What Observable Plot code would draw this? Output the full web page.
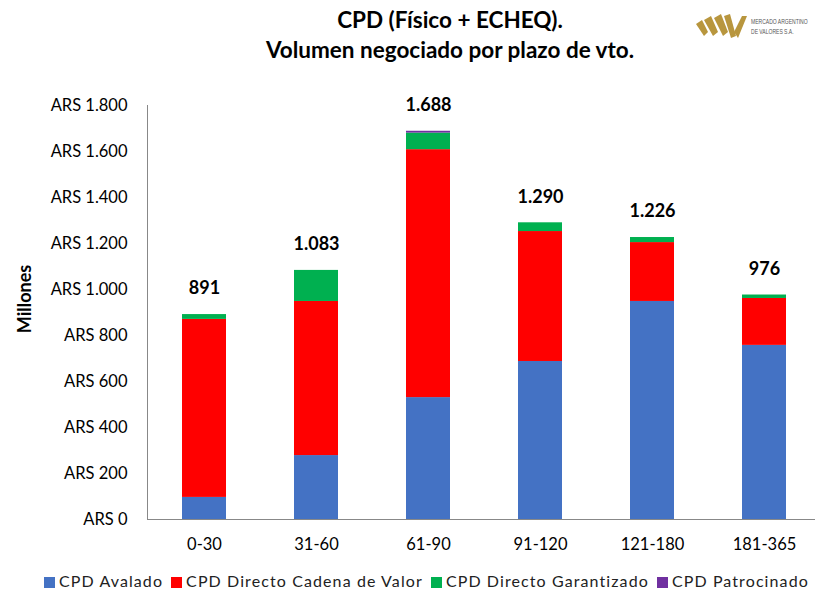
<!DOCTYPE html>
<html>
<head>
<meta charset="utf-8">
<script src="https://cdn.jsdelivr.net/npm/d3@7"></script>
<script src="https://cdn.jsdelivr.net/npm/@observablehq/plot@0.6"></script>
<style>
  html, body { margin: 0; padding: 0; background: #fff; }
  body { width: 815px; height: 590px; overflow: hidden; font-family: Lato, "Liberation Sans", sans-serif; }
  #wrap { position: relative; width: 815px; height: 590px; }
  #title { position: absolute; left: 0; width: 900px; top: 5px; text-align: center; font-weight: bold; font-size: 22.5px; line-height: 30px; color: #000; }
  #ylab { position: absolute; left: 24px; top: 299px; transform: translate(-50%, -50%) rotate(-90deg); font-weight: bold; font-size: 18px; color: #000; }
  #legend { position: absolute; left: 44px; top: 571px; font-size: 16px; color: #222; white-space: nowrap; letter-spacing: 1.1px; }
  #legend span.sw { display: inline-block; width: 11px; height: 11px; margin-right: 4px; vertical-align: -1px; }
  #legend span.it { margin-right: 8px; }
  #logo { position: absolute; left: 694px; top: 10px; }
  #chart { position: absolute; left: 0; top: 0; }
</style>
</head>
<body>
<div id="wrap">
  <div id="chart"></div>
  <div id="title">CPD (Físico + ECHEQ).<br>Volumen negociado por plazo de vto.</div>
  <div id="ylab">Millones</div>
  <div id="logo">
    <svg width="118" height="34" viewBox="0 0 118 34">
      <g fill="#B8963E">
        <polygon points="2,14 8,10 14,22 10,26"/>
        <polygon points="10,10 17,6 24,22 19,26"/>
        <polygon points="20,8 27,4 34,22 29,26"/>
        <polygon points="30,6 36,4 42,26 37,28"/>
        <polygon points="40,22 48,6 53,6 44,28"/>
      </g>
      <text transform="translate(57,14) scale(0.72,1)" font-size="7" fill="#555" font-family="Liberation Sans, sans-serif">MERCADO ARGENTINO</text>
      <text transform="translate(57,24) scale(0.72,1)" font-size="7" fill="#555" font-family="Liberation Sans, sans-serif">DE VALORES S.A.</text>
    </svg>
  </div>
  <div id="legend"></div>
</div>
<script>
const plazos = ["0-30", "31-60", "61-90", "91-120", "121-180", "181-365"];
const series = ["CPD Avalado", "CPD Directo Cadena de Valor", "CPD Directo Garantizado", "CPD Patrocinado"];
const colors = ["#4472C4", "#FF0000", "#00B050", "#7030A0"];
const avalado   = [96, 278, 530, 687, 948, 757];
const cadena    = [774, 670, 1078, 565, 256, 204];
const garantiz  = [21, 135, 72, 38, 22, 15];
const patrocin  = [0, 0, 8, 0, 0, 0];
const totals    = [891, 1083, 1688, 1290, 1226, 976];
const yTicks    = [0, 200, 400, 600, 800, 1000, 1200, 1400, 1600, 1800];

const seriesValues = [avalado, cadena, garantiz, patrocin];
const rows = [];
series.forEach((s, si) => plazos.forEach((p, pi) => rows.push({plazo: p, serie: s, value: seriesValues[si][pi]})));
const totalRows = plazos.map((p, i) => ({plazo: p, total: totals[i]}));

const loc = d3.formatLocale({decimal: ",", thousands: ".", grouping: [3], currency: ["", ""]});
const fmt = loc.format(",d");

const chart = Plot.plot({
  width: 815,
  height: 560,
  marginLeft: 147,
  marginRight: 0,
  marginTop: 105,
  marginBottom: 41,
  style: {fontFamily: "Lato, 'Liberation Sans', sans-serif", fontSize: "16px", color: "#000", background: "transparent"},
  x: {domain: plazos, range: [147, 821], paddingInner: 0.61, paddingOuter: 0.305, label: null},
  y: {domain: [0, 1800], label: null},
  color: {domain: series, range: colors},
  marks: [
    Plot.barY(rows, {x: "plazo", y: "value", fill: "serie", order: series}),
    Plot.frame({anchor: "left", stroke: "#888"}),
    Plot.frame({anchor: "bottom", stroke: "#888"}),
    Plot.text(totalRows, {x: "plazo", y: "total", text: d => fmt(d.total), dy: -26, fontWeight: "bold", fontSize: 18}),
    Plot.axisY({ticks: yTicks, tickFormat: d => "ARS " + fmt(d), tickSize: 0, tickPadding: 20, fontSize: 16.5}),
    Plot.axisX({tickSize: 0, tickPadding: 19, fontSize: 16.5})
  ]
});
document.getElementById("chart").appendChild(chart);

const leg = document.getElementById("legend");
series.forEach((s, i) => {
  const it = document.createElement("span");
  it.className = "it";
  it.innerHTML = `<span class="sw" style="background:${colors[i]}"></span>${s}`;
  leg.appendChild(it);
});
</script>
</body>
</html>
